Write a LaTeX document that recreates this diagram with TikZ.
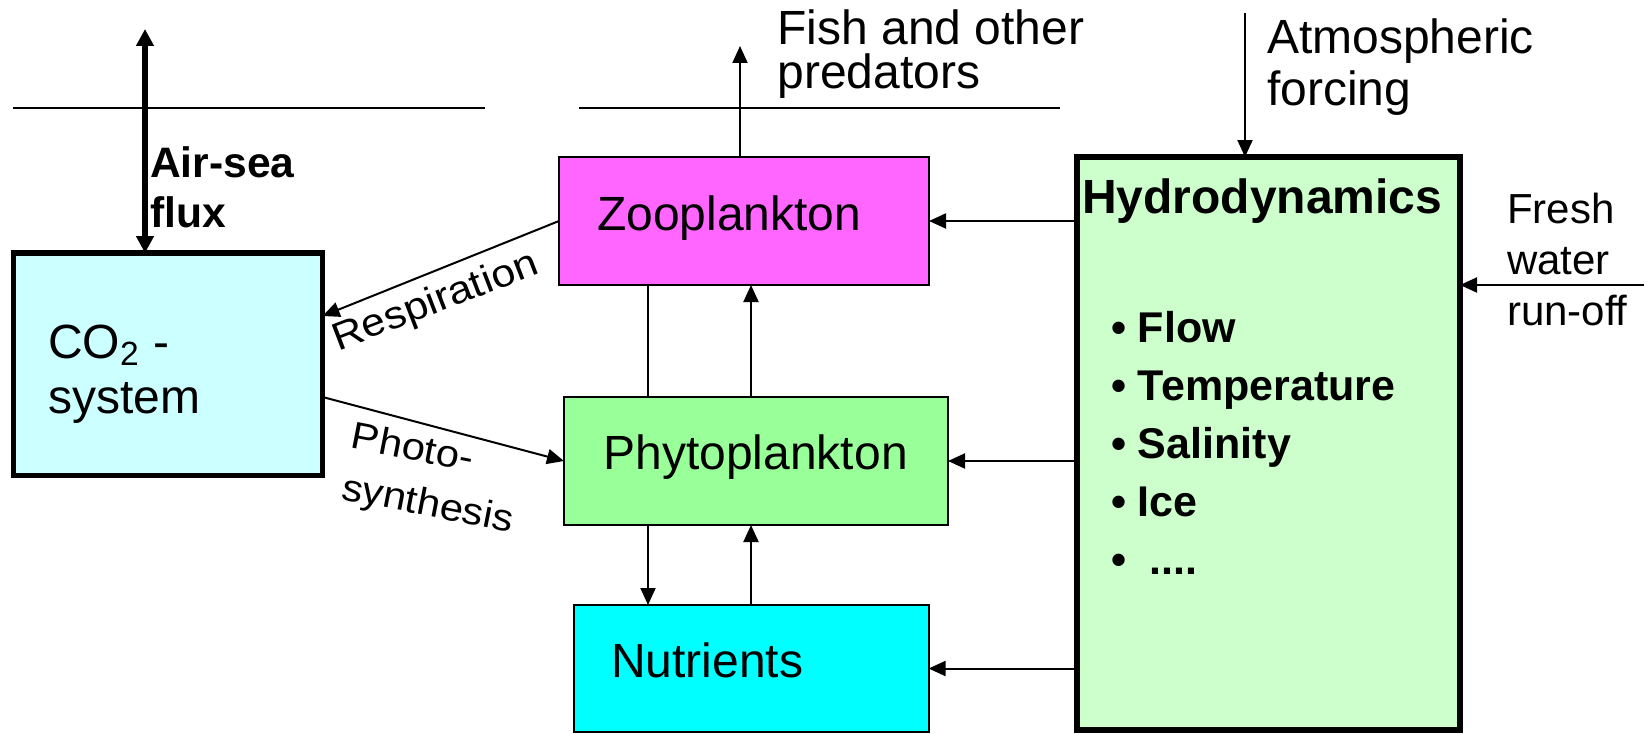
\documentclass[tikz,border=0pt]{standalone}
\usepackage{fontspec}
\setmainfont{Liberation Sans}
\usetikzlibrary{arrows.meta}
\definecolor{cocol}{HTML}{CCFFFF}
\definecolor{zoocol}{HTML}{FF66FF}
\definecolor{phycol}{HTML}{99FF99}
\definecolor{nutcol}{HTML}{00FFFF}
\definecolor{hydcol}{HTML}{CCFFCC}
\begin{document}
\begin{tikzpicture}[x=0.5pt,y=-0.5pt,
  box/.style={draw, line width=1pt, inner sep=0pt, outer sep=0pt},
  thickbox/.style={draw, line width=2.6pt, inner sep=0pt, outer sep=0pt},
  lbl/.style={inner sep=0pt, outer sep=0pt, anchor=base west, align=left},
  conn/.style={line width=1pt, -{Triangle[width=7.5pt,length=8.5pt]}},
  plainline/.style={line width=1pt},
]
\useasboundingbox (0,0) rectangle (1652,733);

% surface lines
\coordinate (sl1) at (13,108);
\coordinate (sl1e) at (485,108);
\coordinate (sl2) at (579,108);
\coordinate (sl2e) at (1060,108);
\draw[plainline] (sl1) -- (sl1e);
\draw[plainline] (sl2) -- (sl2e);

% boxes
\node[thickbox, fill=cocol, minimum width=154.6pt, minimum height=111.25pt] (co2) at (168,364.3) {};
\node[box, fill=zoocol, minimum width=185pt, minimum height=64pt] (zoo) at (744,221) {};
\node[box, fill=phycol, minimum width=192pt, minimum height=64pt] (phy) at (756,461) {};
\node[box, fill=nutcol, minimum width=177.3pt, minimum height=63.5pt] (nut) at (751.3,668.5) {};
\node[thickbox, fill=hydcol, minimum width=191.5pt, minimum height=286.5pt] (hyd) at (1268.5,443.5) {};

% box texts
\node[lbl, font=\fontsize{24}{27.5}\selectfont] (co2lbl) at (48,413) {CO\textsubscript{2} -\\system};
\node[lbl, font=\fontsize{24}{28}\selectfont] (zoolbl) at (597,230) {Zooplankton};
\node[lbl, font=\fontsize{24}{28}\selectfont] (phylbl) at (603.5,469) {Phytoplankton};
\node[lbl, font=\fontsize{24}{28}\selectfont] (nutlbl) at (611,677) {Nutrients};
\node[lbl, font=\fontsize{24}{28}\selectfont\bfseries] (hydlbl) at (1082,213) {Hydrodynamics};
\node[lbl, font=\fontsize{21.5}{29}\selectfont\bfseries] (hydlist) at (1111,574)
  {\textbullet\ Flow\\\textbullet\ Temperature\\\textbullet\ Salinity\\\textbullet\ Ice\\\textbullet\ \ ....};

% outside texts
\node[lbl, font=\fontsize{21.3}{25}\selectfont\bfseries] (airlbl) at (150,227) {Air-sea\\flux};
\node[lbl, font=\fontsize{24}{22.25}\selectfont] (fishlbl) at (777.5,89) {Fish and other\\predators};
\node[lbl, font=\fontsize{24}{26}\selectfont] (atmlbl) at (1267,105) {Atmospheric\\forcing};
\node[lbl, font=\fontsize{21}{25.5}\selectfont] (freshlbl) at (1507,325) {Fresh\\water\\run-off};
\node[lbl, rotate=21, xscale=1.1, font=\fontsize{19.5}{22}\selectfont] (resplbl) at (338,351) {Respiration};
\node[lbl, rotate=-11, xscale=1.1, font=\fontsize{19}{26}\selectfont] (photolbl) at (340,499) {Photo-\\synthesis};

% free ends
\coordinate (airtop) at (145,29);
\coordinate (fishtop) at (740,46);
\coordinate (atmtop) at (1245,13);
\coordinate (freshend) at (1644,285);
\coordinate (xl) at (648,0);
\coordinate (xr) at (751,0);
\coordinate (respy) at (0,316);
\coordinate (photoy) at (0,397);

% connectors
\draw[line width=3pt, {Triangle[width=8.5pt,length=8.5pt]}-{Triangle[width=8.5pt,length=8.5pt]}] (airtop) -- (airtop |- co2.north);
\draw[conn] (zoo.north -| fishtop) -- (fishtop);
\draw[conn] (atmtop) -- (atmtop |- hyd.north);
\draw[conn] (freshend) -- (freshend -| hyd.east);
\draw[conn] (hyd.west |- zoo.east) -- (zoo.east);
\draw[conn] (hyd.west |- phy.east) -- (phy.east);
\draw[conn] (hyd.west |- nut.east) -- (nut.east);
\draw[plainline] (phy.north -| xl) -- (zoo.south -| xl);
\draw[conn] (phy.north -| xr) -- (zoo.south -| xr);
\draw[conn] (phy.south -| xl) -- (nut.north -| xl);
\draw[conn] (nut.north -| xr) -- (phy.south -| xr);
\draw[conn] (zoo.west) -- (co2.east |- respy);
\draw[conn] (co2.east |- photoy) -- (phy.west);
\end{tikzpicture}
\end{document}
